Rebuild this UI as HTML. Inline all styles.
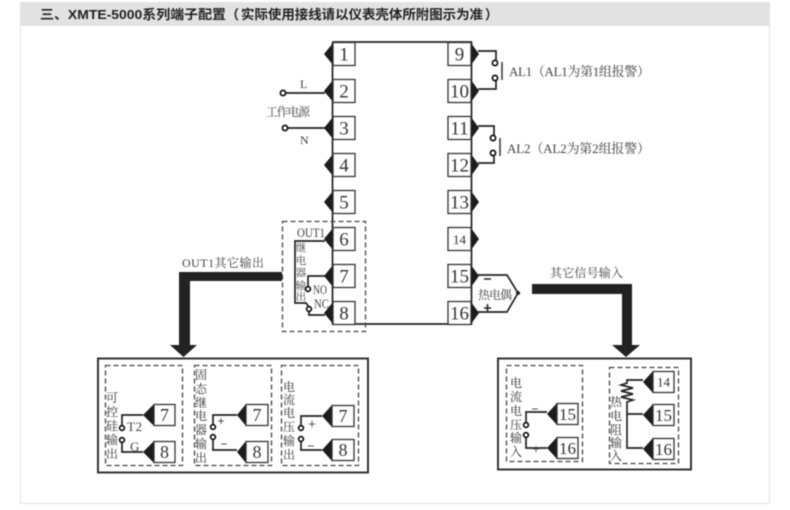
<!DOCTYPE html>
<html><head><meta charset="utf-8"><style>
html,body{margin:0;padding:0;background:#fff;width:790px;height:510px;overflow:hidden}
svg{display:block;filter:blur(.4px)}
text{font-family:"Liberation Serif","Noto Serif CJK SC",serif;fill:#333}
.n{font-size:19px;text-anchor:middle;fill:#333}
.s{font-size:18px;text-anchor:middle;fill:#333}
.m{font-size:17px;text-anchor:middle;fill:#333}
.v{font-size:12px;text-anchor:middle;fill:#333}
.u{font-size:10.500px;text-anchor:middle;fill:#444}
.l{font-size:12px;fill:#444}
.w{fill:none;stroke:#222;stroke-width:1.7}
.b{fill:#fff;stroke:#333;stroke-width:1.3}
.d{fill:none;stroke:#444;stroke-width:1.3;stroke-dasharray:5 3}
.c{fill:#fff;stroke:#111;stroke-width:1.7}
.t{fill:#1c1c1c;stroke:none}
</style></head><body>
<svg width="790" height="510" viewBox="0 0 790 510" xmlns="http://www.w3.org/2000/svg">
<rect x="20.500" y="2.500" width="749" height="501" fill="#fff" stroke="#e2e2e2"/>
<rect x="20" y="2" width="750" height="24" fill="#e2e2e2"/>
<g style="font-size:13px;font-weight:bold">
<text x="40" y="19" textLength="186" lengthAdjust="spacingAndGlyphs" style="font-family:'Liberation Sans','Noto Sans CJK SC',sans-serif;fill:#222">三、XMTE-5000系列端子配置</text>
<text x="226" y="19" style="font-family:'Liberation Sans','Noto Sans CJK SC',sans-serif;fill:#222">（</text>
<text x="241" y="19" textLength="242" lengthAdjust="spacingAndGlyphs" style="font-family:'Liberation Sans','Noto Sans CJK SC',sans-serif;fill:#222">实际使用接线请以仪表壳体所附图示为准</text>
<text x="485" y="19" style="font-family:'Liberation Sans','Noto Sans CJK SC',sans-serif;fill:#222">）</text>
</g>

<!-- body -->
<path class="w" d="M332.500 42V324H471.500V42H332.500"/>
<g class="t">
<polygon points="333,43 333,65 324,54"/><polygon points="333,80 333,102 324,91"/><polygon points="333,117 333,139 324,128"/><polygon points="333,154 333,176 324,165"/><polygon points="333,191 333,213 324,202"/><polygon points="333,228 333,250 324,239"/><polygon points="333,265 333,287 324,276"/><polygon points="333,302 333,324 324,313"/>
<polygon points="471,43 471,65 479,54"/><polygon points="471,80 471,102 479,91"/><polygon points="471,117 471,139 479,128"/><polygon points="471,154 471,176 479,165"/><polygon points="471,191 471,213 479,202"/><polygon points="471,228 471,250 479,239"/><polygon points="471,265 471,287 479,276"/><polygon points="471,302 471,324 479,313"/>
</g>
<g class="b">
<rect x="333" y="42.500" width="22" height="23"/><rect x="333" y="79.500" width="22" height="23"/><rect x="333" y="116.500" width="22" height="23"/><rect x="333" y="153.500" width="22" height="23"/><rect x="333" y="190.500" width="22" height="23"/><rect x="333" y="227.500" width="22" height="23"/><rect x="333" y="264.500" width="22" height="23"/><rect x="333" y="301.500" width="22" height="23"/>
<rect x="448" y="42.500" width="23" height="23"/><rect x="448" y="79.500" width="23" height="23"/><rect x="448" y="116.500" width="23" height="23"/><rect x="448" y="153.500" width="23" height="23"/><rect x="448" y="190.500" width="23" height="23"/><rect x="448" y="227.500" width="23" height="23"/><rect x="448" y="264.500" width="23" height="23"/><rect x="448" y="301.500" width="23" height="23"/>
</g>
<text x="344" y="60.500" class="n">1</text><text x="344" y="97.500" class="n">2</text><text x="344" y="134.500" class="n">3</text><text x="344" y="171.500" class="n">4</text><text x="344" y="208.500" class="n">5</text><text x="344" y="245.500" class="n">6</text><text x="344" y="282.500" class="n">7</text><text x="344" y="319.500" class="n">8</text>
<text x="459.500" y="60.500" class="n">9</text><text x="459.500" y="97.500" class="n">10</text><text x="459.500" y="134.500" class="n">11</text><text x="459.500" y="171.500" class="n">12</text><text x="459.500" y="208.500" class="n">13</text><text x="459.500" y="244" class="n" style="font-size:13px">14</text><text x="459.500" y="282.500" class="n">15</text><text x="459.500" y="319.500" class="n">16</text>

<!-- power -->
<path class="w" d="M285 93H325M287 128H325"/>
<circle class="c" cx="283" cy="93" r="2.600"/><circle class="c" cx="285" cy="128" r="2.600"/>
<text class="l" x="300" y="88">L</text><text class="l" x="300" y="144">N</text>
<text class="l" x="266" y="116" textLength="44">工作电源</text>

<!-- alarm -->
<path class="w" d="M478 51H496V60M496 81V89H478M478 126H494V135M494 156V163H478"/>
<circle class="c" cx="495" cy="63" r="2.600"/><circle class="c" cx="495" cy="78" r="2.600"/><circle class="c" cx="493" cy="138" r="2.600"/><circle class="c" cx="493" cy="153" r="2.600"/>
<path stroke="#333" stroke-width="1.500" d="M502 62V80M500 138V156"/>
<text class="l" x="509" y="76" textLength="141" style="font-size:13px">AL1（AL1为第1组报警）</text>
<text class="l" x="507" y="153" textLength="143" style="font-size:13px">AL2（AL2为第2组报警）</text>

<!-- out1 -->
<rect class="d" x="282.500" y="221.500" width="83" height="110"/>
<text class="l" x="297" y="237" textLength="28" lengthAdjust="spacingAndGlyphs" style="font-size:13px">OUT1</text>
<path class="w" d="M325 241H295V303H306L309 307M309 312V315H325M308 287V276H325"/>
<circle class="c" cx="308" cy="289" r="2.400"/><circle class="c" cx="309" cy="309" r="2.400"/>
<text x="301" y="251" class="u">继</text><text x="301" y="264" class="u">电</text><text x="301" y="276" class="u">器</text><text x="301" y="289" class="u">输</text><text x="301" y="300" class="u">出</text>
<text class="l" x="313" y="294" textLength="14" lengthAdjust="spacingAndGlyphs" style="font-size:13px">NO</text><text class="l" x="314" y="308" textLength="15" lengthAdjust="spacingAndGlyphs" style="font-size:13px">NC</text>

<!-- thick arrows -->
<polygon fill="#222" points="282,272 179,272 179,345 170,345 183.500,357 197,345 190,345 190,281 282,281"/>
<polygon fill="#222" points="532,284 632,284 632,345 640,345 626,357 612,345 622,345 622,294 532,294"/>
<text class="l" x="182" y="267" textLength="82">OUT1其它输出</text>
<text class="l" x="550" y="277" textLength="73">其它信号输入</text>

<!-- thermocouple -->
<path class="w" d="M478 275H507L518 293L507 312H478"/>
<circle cx="518" cy="293" r="2" fill="#222"/>
<path stroke="#222" stroke-width="1.500" d="M484 279H491M484 308H491M487.500 304V312"/>
<text class="l" x="478" y="299" textLength="34">热电偶</text>

<!-- bottom-left -->
<rect x="98" y="358.500" width="270" height="114" fill="#fff" stroke="#333" stroke-width="2"/>
<rect class="d" x="105.500" y="365.500" width="77" height="100"/>
<rect class="d" x="194.500" y="365.500" width="77" height="100"/>
<rect class="d" x="281.500" y="365.500" width="77" height="100"/>
<g class="t">
<polygon points="154,404 154,426 143,415"/><polygon points="154,441 154,463 143,452"/>
<polygon points="246,404 246,426 237,415"/><polygon points="246,441 246,463 237,452"/>
<polygon points="332,405 332,427 322,416"/><polygon points="332,439 332,461 322,450"/>
</g>
<g class="b">
<rect x="154" y="404.500" width="21" height="21"/><rect x="154" y="441.500" width="21" height="21"/>
<rect x="246" y="404.500" width="22" height="21"/><rect x="246" y="441.500" width="22" height="21"/>
<rect x="332" y="405.500" width="22" height="21"/><rect x="332" y="439.500" width="22" height="21"/>
</g>
<text x="164.500" y="421" class="s">7</text><text x="164.500" y="458" class="s">8</text>
<text x="257" y="421" class="s">7</text><text x="257" y="458" class="s">8</text>
<text x="343" y="422" class="s">7</text><text x="343" y="456" class="s">8</text>
<path class="w" d="M143 415H122V426M122 442V452H143M237 415H213V425M213 439V450H237M322 416H301V426M301 441V450H322"/>
<circle class="c" cx="122" cy="428" r="2.400"/><circle class="c" cx="122" cy="440" r="2.400"/>
<circle class="c" cx="213" cy="427" r="2.400"/><circle class="c" cx="213" cy="437" r="2.400"/>
<circle class="c" cx="301" cy="428" r="2.400"/><circle class="c" cx="301" cy="439" r="2.400"/>
<text class="l" x="127" y="431" textLength="15" style="font-size:13px">T2</text><text class="l" x="130" y="451" style="font-size:13px">G</text>
<path stroke="#555" stroke-width="1" d="M218 421H224M221 418V424M221 444H227M309 424H315M312 421V427M308 446H314"/>
<text class="v" x="112" y="402">可</text><text class="v" x="112" y="416">控</text><text class="v" x="112" y="430">硅</text><text class="v" x="112" y="444">输</text><text class="v" x="112" y="458">出</text>
<text class="v" x="201" y="379">固</text><text class="v" x="201" y="393">态</text><text class="v" x="201" y="407">继</text><text class="v" x="201" y="420">电</text><text class="v" x="201" y="434">器</text><text class="v" x="201" y="448">输</text><text class="v" x="201" y="462">出</text>
<text class="v" x="289" y="391">电</text><text class="v" x="289" y="404">流</text><text class="v" x="289" y="417">电</text><text class="v" x="289" y="431">压</text><text class="v" x="289" y="445">输</text><text class="v" x="289" y="459">出</text>

<!-- bottom-right -->
<rect x="498" y="358.500" width="193" height="111" fill="#fff" stroke="#333" stroke-width="2"/>
<rect class="d" x="506.500" y="365.500" width="76" height="96"/>
<rect class="d" x="609.500" y="367.500" width="69" height="96"/>
<g class="t">
<polygon points="557,403 557,425 547,414"/><polygon points="557,437 557,459 547,448"/>
<polygon points="653,371 653,393 643,382"/><polygon points="653,404 653,426 643,415"/><polygon points="653,438 653,460 643,449"/>
</g>
<g class="b">
<rect x="557" y="403.500" width="21" height="21"/><rect x="557" y="437.500" width="21" height="21"/>
<rect x="653" y="371.500" width="21" height="21"/><rect x="653" y="404.500" width="21" height="21"/><rect x="653" y="438.500" width="21" height="21"/>
</g>
<text x="567.500" y="420" class="m">15</text><text x="567.500" y="454" class="m">16</text>
<text x="663.500" y="386.500" class="m" style="font-size:13px">14</text><text x="663.500" y="421" class="m">15</text><text x="663.500" y="455" class="m">16</text>
<path class="w" d="M547 412H526V423M526 437V448H547"/>
<circle class="c" cx="526" cy="425" r="2.400"/><circle class="c" cx="526" cy="435" r="2.400"/>
<path stroke="#555" stroke-width="1" d="M532 409H538M533 449H539M536 446V452"/>
<text class="v" x="516" y="387">电</text><text class="v" x="516" y="401">流</text><text class="v" x="516" y="415">电</text><text class="v" x="516" y="429">压</text><text class="v" x="516" y="442">输</text><text class="v" x="516" y="456">入</text>
<path class="w" d="M643 380H627V383L621 385L633 388L621 391L633 394L621 397L633 400L627 402V448H643M627 414H643"/>
<text class="v" x="616" y="406">热</text><text class="v" x="616" y="420">电</text><text class="v" x="616" y="434">阻</text><text class="v" x="616" y="447">输</text><text class="v" x="616" y="460">入</text>
</svg>
</body></html>
